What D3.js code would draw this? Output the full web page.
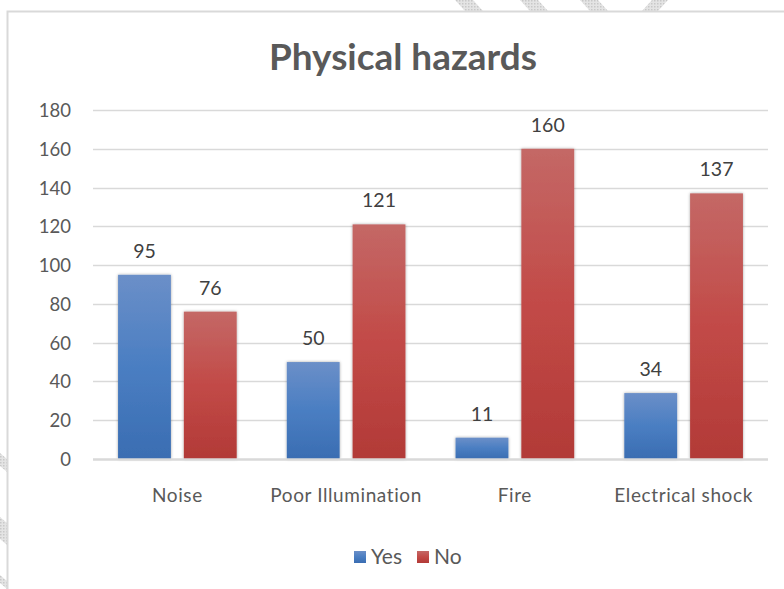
<!DOCTYPE html>
<html><head><meta charset="utf-8">
<script src="https://cdn.jsdelivr.net/npm/d3@7"></script>
<style>body{margin:0;background:#fff}svg{display:block}</style>
</head><body>
<script>
const categories = ["Noise", "Poor Illumination", "Fire", "Electrical shock"];
const seriesNames = ["Yes", "No"];
const yesValues = [95, 50, 11, 34];
const noValues = [76, 121, 160, 137];
const yTicks = [0, 20, 40, 60, 80, 100, 120, 140, 160, 180];

const W = 784, H = 589;
const svg = d3.select("body").append("svg").attr("width", W).attr("height", H);
const defs = svg.append("defs");
function grad(id, top, mid, bot) {
  const g = defs.append("linearGradient").attr("id", id).attr("x1", 0).attr("y1", 0).attr("x2", 0).attr("y2", 1);
  g.append("stop").attr("offset", "0%").attr("stop-color", top);
  g.append("stop").attr("offset", "50%").attr("stop-color", mid);
  g.append("stop").attr("offset", "100%").attr("stop-color", bot);
}
grad("gYes", "#6b8fc8", "#4a7ec2", "#3a6db2");
grad("gNo", "#c46866", "#c24a47", "#b23a37");
const f = defs.append("filter").attr("id", "sh").attr("x", "-20%").attr("y", "-10%").attr("width", "140%").attr("height", "120%");
f.append("feDropShadow").attr("dx", 0).attr("dy", 0).attr("stdDeviation", 1.5).attr("flood-color", "#000").attr("flood-opacity", 0.35);

// watermark stripes outside frame
const pat = defs.append("pattern").attr("id", "hatch").attr("width", 3).attr("height", 3).attr("patternUnits", "userSpaceOnUse");
pat.append("rect").attr("width", 3).attr("height", 3).attr("fill", "#e4e4e4");
pat.append("rect").attr("width", 1.5).attr("height", 1.5).attr("fill", "#c8c8c8");
[[455, 1], [520, 1], [580, 1], [652, -1]].forEach(([x, d]) => {
  svg.append("path").attr("d", d > 0 ? `M${x},0 L${x + 18},0 L${x + 28},11 L${x + 10},11 Z` : `M${x},0 L${x + 16},0 L${x + 6},11 L${x - 10},11 Z`).attr("fill", "url(#hatch)");
});
[[453, 472], [517, 545], [575, 589]].forEach(([a, b]) => {
  svg.append("path").attr("d", `M0,${a} L7,${a + 6} L7,${b} L0,${b - 6} Z`).attr("fill", "url(#hatch)");
});

// frame
svg.append("rect").attr("x", 7.5).attr("y", 11.5).attr("width", 800).attr("height", 600)
  .attr("fill", "#fff").attr("stroke", "#d9d9d9").attr("stroke-width", 2);

const x0 = 93, x1 = 768;
const y = d3.scaleLinear().domain([0, 180]).range([459, 110]);
const xb = d3.scaleBand().domain(categories).range([x0, x1]).paddingInner(0.297).paddingOuter(0.1485);
const xs = d3.scaleBand().domain(seriesNames).range([0, xb.bandwidth()]).paddingInner(0.197);

const font = "Lato, 'Open Sans', sans-serif";

// title
svg.append("text").attr("x", 403).attr("y", 70).attr("text-anchor", "middle")
  .attr("font-family", font).attr("font-weight", "bold").attr("font-size", 37)
  .attr("fill", "#595959").attr("textLength", 268).attr("lengthAdjust", "spacingAndGlyphs").text("Physical hazards");

// gridlines
svg.append("g").selectAll("line").data(yTicks.filter(d => d > 0)).join("line")
  .attr("x1", x0).attr("x2", x1).attr("y1", d => Math.round(y(d)) + 0.5).attr("y2", d => Math.round(y(d)) + 0.5)
  .attr("stroke", "#d9d9d9").attr("stroke-width", 1.5);

// y axis labels
const yAxis = d3.axisLeft(y).tickValues(yTicks).tickSize(0).tickPadding(0);
const ya = svg.append("g").attr("transform", "translate(71,0)").call(yAxis);
ya.select(".domain").remove();
ya.selectAll("text").attr("font-family", font).attr("font-size", 18.5).attr("fill", "#595959").attr("dy", "0.35em");

// bars
const data = categories.map((c, i) => ({ c, vals: [{ s: "Yes", v: yesValues[i] }, { s: "No", v: noValues[i] }] }));
const groups = svg.append("g").selectAll("g").data(data).join("g").attr("transform", d => `translate(${xb(d.c)},0)`);
groups.selectAll("rect").data(d => d.vals).join("rect")
  .attr("x", d => xs(d.s)).attr("width", xs.bandwidth())
  .attr("y", d => y(d.v)).attr("height", d => y(0) - y(d.v))
  .attr("fill", d => d.s === "Yes" ? "url(#gYes)" : "url(#gNo)").attr("filter", "url(#sh)");
groups.selectAll("text").data(d => d.vals).join("text")
  .attr("x", d => xs(d.s) + xs.bandwidth() / 2).attr("y", d => y(d.v) - 17)
  .attr("text-anchor", "middle").attr("font-family", font).attr("font-size", 19.5).attr("fill", "#404040")
  .text(d => d.v);

// baseline
svg.append("line").attr("x1", x0).attr("x2", x1).attr("y1", 459.5).attr("y2", 459.5).attr("stroke", "#d9d9d9").attr("stroke-width", 2.5);

// x axis
const xAxis = d3.axisBottom(xb).tickSize(0).tickPadding(0);
const xa = svg.append("g").attr("transform", "translate(0,502)").call(xAxis);
xa.select(".domain").remove();
xa.selectAll("text").attr("font-family", font).attr("font-size", 19).attr("letter-spacing", "0.6px").attr("fill", "#595959").attr("dy", 0);

// legend
const leg = svg.append("g").attr("transform", "translate(354,551)");
const lx = [0, 63];
seriesNames.forEach((s, i) => {
  const g = leg.append("g").attr("transform", `translate(${lx[i]},0)`);
  g.append("rect").attr("width", 12).attr("height", 12).attr("fill", i === 0 ? "url(#gYes)" : "url(#gNo)");
  g.append("text").attr("x", 17).attr("y", 12.5).attr("font-family", font).attr("font-size", 21).attr("fill", "#595959").text(s);
});
</script>
</body></html>
